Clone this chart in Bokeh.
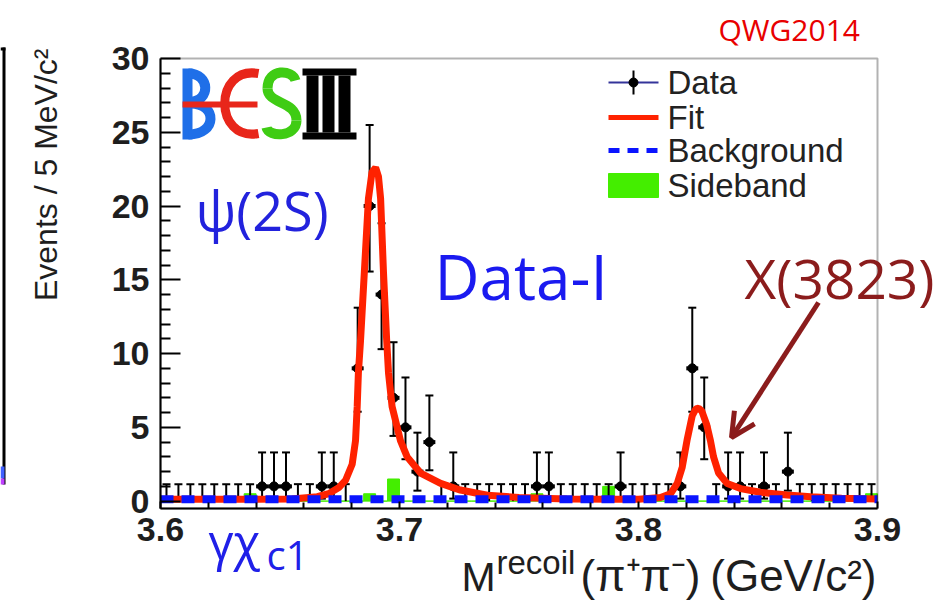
import math
from bokeh.plotting import figure
from bokeh.models import (Range1d, Label, Arrow, OpenHead, BoxAnnotation,
                          FixedTicker, PrintfTickFormatter)
from bokeh.embed import file_html
from bokeh.resources import INLINE

# ---------------- data ----------------
X_MIN, X_MAX = 3.6, 3.9
Y_MIN, Y_MAX = -0.5, 30.0
bin_half = 0.0025  # half of a 5 MeV bin

bin_centers = [3.6025, 3.6075, 3.6125, 3.6175, 3.6225, 3.6275, 3.6325, 3.6375, 3.6425, 3.6475,
               3.6525, 3.6575, 3.6625, 3.6675, 3.6725, 3.6775, 3.6825, 3.6875, 3.6925, 3.6975,
               3.7025, 3.7075, 3.7125, 3.7175, 3.7225, 3.7275, 3.7325, 3.7375, 3.7425, 3.7475,
               3.7525, 3.7575, 3.7625, 3.7675, 3.7725, 3.7775, 3.7825, 3.7875, 3.7925, 3.7975,
               3.8025, 3.8075, 3.8125, 3.8175, 3.8225, 3.8275, 3.8325, 3.8375, 3.8425, 3.8475,
               3.8525, 3.8575, 3.8625, 3.8675, 3.8725, 3.8775, 3.8825, 3.8875, 3.8925, 3.8975]
counts = [0, 0, 0, 0, 0, 0, 0, 0, 1, 1,
          1, 0, 0, 1, 1, 0, 9, 20, 14, 7,
          5, 2, 4, 0, 1, 0, 0, 0, 0, 0,
          0, 1, 1, 0, 0, 0, 0, 0, 1, 0,
          0, 0, 0, 1, 9, 5, 0, 1, 1, 0,
          1, 0, 2, 0, 0, 0, 0, 0, 0, 0]
# asymmetric (Poisson) error bar lengths, by bin content
err_down = {0: 0.0, 1: 0.83, 2: 1.29, 4: 1.91, 5: 2.16, 7: 2.58, 9: 2.94, 14: 3.70, 20: 4.44}
err_up = {0: 1.15, 1: 2.30, 2: 2.64, 4: 3.16, 5: 3.38, 7: 3.77, 9: 4.11, 14: 4.83, 20: 5.49}
sideband = [0, 0, 0, 0, 0, 0, 0, 0.5, 0, 0,
            0, 0, 0, 0, 0, 0, 0, 0.5, 0, 1.5,
            0, 0, 0, 0, 0, 0, 0, 0, 0, 0,
            0, 0.5, 0, 0, 0, 0, 0, 1.0, 0, 0,
            0, 0, 0, 0, 0, 0, 0, 0, 0, 0,
            0, 0, 0, 0, 0, 0, 0, 0, 0, 0.5]
fit_points = [(3.600, 0.12), (3.640, 0.12), (3.655, 0.15), (3.6656, 0.3), (3.6703, 0.5),
              (3.6745, 0.9), (3.6774, 1.4), (3.6802, 2.5), (3.6816, 4.1), (3.6823, 6.4),
              (3.6828, 8.7), (3.6837, 10.9), (3.6858, 17.0), (3.6870, 20.5), (3.6885, 22.3),
              (3.6900, 22.6), (3.6912, 22.0), (3.6921, 20.5), (3.6933, 15.5), (3.6946, 11.0),
              (3.6954, 8.7), (3.6969, 6.4), (3.7004, 4.1), (3.7032, 3.0), (3.7088, 1.9),
              (3.7172, 1.2), (3.7255, 0.75), (3.7368, 0.4), (3.750, 0.25), (3.770, 0.15),
              (3.790, 0.12), (3.800, 0.12), (3.8092, 0.25), (3.8134, 0.5), (3.8162, 1.2),
              (3.8183, 2.3), (3.8204, 4.2), (3.8225, 5.8), (3.8240, 6.25), (3.8252, 6.3),
              (3.8265, 6.1), (3.8285, 5.2), (3.8301, 4.1), (3.8314, 3.0), (3.8335, 1.9),
              (3.8371, 1.2), (3.8427, 0.85), (3.8510, 0.6), (3.8622, 0.42), (3.8720, 0.3),
              (3.885, 0.2), (3.900, 0.15)]
fit_mass = [q[0] for q in fit_points]
fit_events = [q[1] for q in fit_points]
bkg_mass = [3.600, 3.900]
bkg_events = [0.12, 0.12]

x_ticks = [3.6, 3.7, 3.8, 3.9]
x_minor = [3.62, 3.64, 3.66, 3.68, 3.72, 3.74, 3.76, 3.78, 3.82, 3.84, 3.86, 3.88]
y_ticks = [0, 5, 10, 15, 20, 25, 30]
y_minor = [1, 2, 3, 4, 6, 7, 8, 9, 11, 12, 13, 14, 16, 17, 18, 19, 21, 22, 23, 24, 26, 27, 28, 29]
legend_labels = ["Data", "Fit", "Background", "Sideband"]
y_title = "Events / 5 MeV/c\u00b2"

# ---------------- layout helpers (page pixel -> data) ----------------
W, H = 947, 603
FL, FR, FT, FB = 160, 877, 58, 508   # the ROOT frame on the page
def dx(px):
    return X_MIN + (px - FL) / (FR - FL) * (X_MAX - X_MIN)
def dy(py):
    return Y_MAX - (py - FT) / (FB - FT) * (Y_MAX - Y_MIN)

p = figure(width=W, height=H,
           x_range=Range1d(dx(0), dx(W)), y_range=Range1d(dy(H), dy(0)),
           output_backend="svg", toolbar_location=None, min_border=0)
p.background_fill_color = "white"
p.border_fill_color = "white"
p.grid.visible = False
p.outline_line_color = None

TICK_FONT = "Liberation Sans"
for ax in (p.xaxis[0], p.yaxis[0]):
    ax.axis_line_width = 2
    ax.major_tick_line_width = 2
    ax.minor_tick_line_width = 2
    ax.major_tick_out = 0
    ax.minor_tick_out = 0
    ax.major_label_text_font = TICK_FONT
    ax.major_label_text_font_size = "34px"
    ax.major_label_text_font_style = "bold"
    ax.major_label_text_color = "#1e1e1e"
p.xaxis.fixed_location = Y_MIN
p.xaxis.bounds = (X_MIN, X_MAX)
p.xaxis.ticker = FixedTicker(ticks=x_ticks, minor_ticks=x_minor)
p.xaxis.formatter = PrintfTickFormatter(format="%.1f")
p.xaxis.major_tick_in = 7
p.xaxis.minor_tick_in = 6
p.xaxis.major_label_standoff = 9
p.yaxis.fixed_location = X_MIN
p.yaxis.bounds = (Y_MIN, Y_MAX)
p.yaxis.ticker = FixedTicker(ticks=y_ticks, minor_ticks=y_minor)
p.yaxis.formatter = PrintfTickFormatter(format="%d")
p.yaxis.major_tick_in = 20
p.yaxis.minor_tick_in = 10
p.yaxis.major_label_standoff = 11

# frame box (ROOT style)
p.add_layout(BoxAnnotation(left=X_MIN, right=X_MAX, bottom=Y_MIN, top=Y_MAX,
                           fill_color=None, line_color="black", line_width=2))

# ---------------- sideband ----------------
GREEN = "#44ee00"
p.quad(left=[c - bin_half for c in bin_centers], right=[c + bin_half for c in bin_centers],
       bottom=0, top=sideband, fill_color=GREEN, line_color=GREEN, line_width=1)

# ---------------- data ----------------
lo = [n - err_down[n] for n in counts]
hi = [n + err_up[n] for n in counts]
p.segment(x0=bin_centers, y0=lo, x1=bin_centers, y1=hi, line_color="black", line_width=2)
p.scatter(x=bin_centers, y=hi, marker="dash", size=8, line_color="black", line_width=2)
nz_x = [c for c, n in zip(bin_centers, counts) if n > 0]
nz_lo = [l for l, n in zip(lo, counts) if n > 0]
nz_n = [n for n in counts if n > 0]
p.scatter(x=nz_x, y=nz_lo, marker="dash", size=8, line_color="black", line_width=2)
p.segment(x0=[c - bin_half for c in nz_x], y0=nz_n, x1=[c + bin_half for c in nz_x], y1=nz_n,
          line_color="black", line_width=4)
p.scatter(x=nz_x, y=nz_n, marker="circle", size=9, fill_color="black", line_color="black")

# ---------------- fit and background ----------------
RED = "#ff2200"
BLUE = "#0a14ff"
p.line(fit_mass, fit_events, line_color=RED, line_width=7)
p.line(bkg_mass, bkg_events, line_color=BLUE, line_width=8, line_dash="13 8")

# ---------------- legend (drawn by hand, ROOT style) ----------------
LX0, LX1, LTX = 608, 658, 667
rows = [82, 117, 150, 185]
p.segment(x0=[dx(LX0)], y0=[dy(rows[0])], x1=[dx(LX1)], y1=[dy(rows[0])], line_color="#34349a", line_width=2)
p.segment(x0=[dx(633)], y0=[dy(rows[0] - 12)], x1=[dx(633)], y1=[dy(rows[0] + 12)], line_color="black", line_width=2)
p.scatter(x=[dx(633)], y=[dy(rows[0])], marker="circle", size=9, fill_color="black", line_color="black")
p.line([dx(LX0), dx(LX1)], [dy(rows[1]), dy(rows[1])], line_color=RED, line_width=5)
p.line([dx(LX0), dx(LX1)], [dy(rows[2]), dy(rows[2])], line_color=BLUE, line_width=5, line_dash="11 8")
p.quad(left=[dx(LX0)], right=[dx(LX1)], top=[dy(rows[3] - 12)], bottom=[dy(rows[3] + 12)],
       fill_color=GREEN, line_color=GREEN)
for lab, r in zip(legend_labels, rows):
    p.add_layout(Label(x=dx(LTX), y=dy(r), text=lab, text_font=TICK_FONT, text_font_size="33px",
                       text_color="#222222", text_baseline="middle"))

# ---------------- text helper: baseline at page pixel (bx, by) ----------------
def put(text, bx, by, size, font, color, align="left"):
    desc = 0.22 * size  # "bottom" anchor sits this far below the baseline
    p.add_layout(Label(x=dx(bx), y=dy(by + desc), text=text, text_font=font,
                       text_font_size=f"{size}px", text_color=color, text_align=align))

# ---------------- axis titles ----------------
TXT = "#1e1e1e"
p.add_layout(Label(x=dx(45), y=dy(48), text=y_title, angle=math.pi / 2, text_align="right",
                   text_baseline="middle", text_font=TICK_FONT, text_font_size="32px",
                   text_color=TXT))
put("M", 461, 590, 41, TICK_FONT, TXT)
put("recoil", 496, 573, 33, TICK_FONT, TXT)
put("(\u03c0\u207a\u03c0\u207b)", 580, 590, 44, TICK_FONT, TXT)
put("(GeV/c\u00b2)", 876, 590, 44, TICK_FONT, TXT, align="right")

# ---------------- annotations ----------------
ANN = "Open Sans"
DARKRED = "#8b1c1c"
put("QWG2014", 718, 43, 30, ANN, "#e80000")
put("\u03c8(2S)", 195, 235, 54, ANN, "#2222dd")
put("Data-I", 434, 304, 62, ANN, "#1a1af0")
put("X(3823)", 744, 302, 55, ANN, DARKRED)
p.add_layout(Arrow(end=OpenHead(size=24, line_color=DARKRED, line_width=5),
                   x_start=dx(818), y_start=dy(302), x_end=dx(731), y_end=dy(437),
                   line_color=DARKRED, line_width=5))
put("\u03b3\u03c7", 208, 563, 49, ANN, "#2020e8")
put("c1", 266, 573, 40, ANN, "#2020e8")

# ---------------- BESIII logo ----------------
LB, LR, LG = "#1f6fe8", "#e8261a", "#3fcc14"
p.quad(left=[dx(182)], right=[dx(192)], top=[dy(68)], bottom=[dy(139)], fill_color=LB, line_color=None)
def bez(pts, color, lw):
    x0 = [dx(q[0][0]) for q in pts]; y0 = [dy(q[0][1]) for q in pts]
    cx0 = [dx(q[1][0]) for q in pts]; cy0 = [dy(q[1][1]) for q in pts]
    cx1 = [dx(q[2][0]) for q in pts]; cy1 = [dy(q[2][1]) for q in pts]
    x1 = [dx(q[3][0]) for q in pts]; y1 = [dy(q[3][1]) for q in pts]
    p.bezier(x0=x0, y0=y0, x1=x1, y1=y1, cx0=cx0, cy0=cy0, cx1=cx1, cy1=cy1,
             line_color=color, line_width=lw)
bez([((188, 73), (210, 73), (210, 101), (190, 101)),
     ((190, 103), (217, 103), (217, 134), (188, 134))], LB, 10)
bez([((258, 73), (213, 65), (213, 141), (258, 133))], LR, 9)
p.segment(x0=[dx(182)], y0=[dy(104)], x1=[dx(257)], y1=[dy(104)], line_color=LR, line_width=6)
bez([((295, 80), (292, 69), (267, 67), (267, 88)),
     ((267, 88), (267, 104), (296, 100), (296, 120)),
     ((296, 120), (296, 137), (268, 137), (266, 127))], LG, 10)
p.quad(left=[dx(302), dx(302), dx(306), dx(322), dx(338)],
       right=[dx(356), dx(356), dx(318), dx(334), dx(350)],
       top=[dy(68), dy(132), dy(75), dy(75), dy(75)],
       bottom=[dy(75), dy(139), dy(132), dy(132), dy(132)],
       fill_color="black", line_color=None)

# ---------------- sliver of the neighbouring panel at the left edge ----------------
for l, r, t, b, col in [(2, 5, 47, 484, "black"), (0, 5, 47, 50, "black"),
                        (0, 4, 466, 478, "#4060ff"), (0, 4, 478, 484, "#c040ff")]:
    p.add_layout(BoxAnnotation(left=dx(l), right=dx(r), top=dy(t), bottom=dy(b),
                               fill_color=col, fill_alpha=1.0, line_color=None))

open("out.html", "w").write(file_html(p, INLINE))
